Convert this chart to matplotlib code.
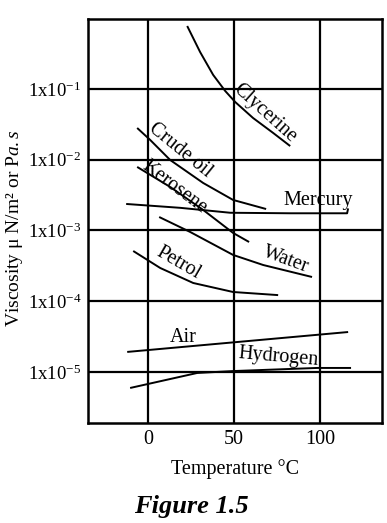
import matplotlib
matplotlib.use("Agg")
import matplotlib.pyplot as plt
import numpy as np

plt.rcParams['font.family'] = ['Liberation Serif', 'DejaVu Serif']
plt.rcParams['mathtext.fontset'] = 'custom'
plt.rcParams['mathtext.rm'] = 'Liberation Serif'
plt.rcParams['mathtext.it'] = 'Liberation Serif:italic'
plt.rcParams['mathtext.bf'] = 'Liberation Serif:bold'

# ---- data (temperature in °C, viscosity in Pa.s) ----
glyc_T = [22.7, 30.2, 37.8, 44.8, 50.6, 61.0, 72.7, 82.6]
glyc_mu = [0.776, 0.333, 0.158, 0.0937, 0.0655, 0.0389, 0.0239, 0.0156]

crude_T = [-6.4, 1.2, 12.8, 32, 49.4, 68.6]
crude_mu = [0.0281, 0.0190, 0.00991, 0.00469, 0.00270, 0.00201]

kero_T = [-6.4, 12.8, 32, 49.4, 58.7]
kero_mu = [0.00791, 0.00412, 0.00195, 0.000923, 0.000687]

merc_T = [-12.8, 18.6, 47.7, 82.6, 115.7, 116.3]
merc_mu = [0.00237, 0.00209, 0.00178, 0.00175, 0.00175, 0.00205]

water_T = [6.4, 24.4, 49.4, 66.9, 95.3]
water_mu = [0.00155, 0.000953, 0.000451, 0.000325, 0.000220]

petrol_T = [-8.7, 7, 26.2, 49.4, 75.6]
petrol_mu = [0.000513, 0.000295, 0.000181, 0.000135, 0.000122]

air_T = [-12.2, 116.3]
air_mu = [1.92e-5, 3.67e-5]

hyd_T = [-10.5, 28.5, 49.4, 98.3, 118]
hyd_mu = [5.94e-6, 9.68e-6, 1.03e-5, 1.14e-5, 1.14e-5]

x_ticks = [0, 50, 100]
x_tick_labels = ['0', '50', '100']
y_ticks = [1e-1, 1e-2, 1e-3, 1e-4, 1e-5]
y_tick_labels = [r'$\mathregular{1x10^{-1}}$', r'$\mathregular{1x10^{-2}}$',
                 r'$\mathregular{1x10^{-3}}$', r'$\mathregular{1x10^{-4}}$',
                 r'$\mathregular{1x10^{-5}}$']

# curve labels: text, T, mu, rotation
labels = [
    ('Clycerine', 68, 0.046, -42),
    ('Crude oil', 18.6, 0.0137, -39),
    ('Kerosene', 15.1, 0.0041, -37),
    ('Mercury', 98.8, 0.00261, 0),
    ('Water', 80.2, 0.000383, -20),
    ('Petrol', 17.4, 0.000347, -30),
    ('Air', 20.3, 3.03e-5, 0),
    ('Hydrogen', 75.6, 1.63e-5, -5),
]

FS = 14.5

fig = plt.figure(figsize=(3.87, 5.23), dpi=100)
ax = fig.add_axes([88/387, 1-423/523, (382-88)/387, (423-19)/523])
ax.set_yscale('log')
ax.set_xlim(-35, 136)
ax.set_ylim(1.9e-6, 0.975)

for T, mu in [(glyc_T, glyc_mu), (crude_T, crude_mu), (kero_T, kero_mu),
              (merc_T, merc_mu), (water_T, water_mu), (petrol_T, petrol_mu),
              (air_T, air_mu), (hyd_T, hyd_mu)]:
    ax.plot(T, mu, color='black', lw=1.4, solid_capstyle='butt')

for txt, T, mu, rot in labels:
    ax.text(T, mu, txt, rotation=rot, rotation_mode='anchor',
            ha='center', va='center', fontsize=FS, color='black')

ax.set_xticks(x_ticks)
ax.set_xticklabels(x_tick_labels, fontsize=FS)
ax.set_yticks(y_ticks)
ax.set_yticklabels(y_tick_labels, fontsize=13.5)
ax.minorticks_off()
ax.tick_params(axis='y', length=0, pad=5)
ax.tick_params(axis='x', length=0, pad=5)
ax.grid(True, color='black', lw=1.6)
for s in ax.spines.values():
    s.set_linewidth(1.8)

ax.set_xlabel('Temperature °C', fontsize=FS, labelpad=7)
fig.text(15/387, 1-228/523, r'Viscosity μ N/m² or P$\mathit{a.s}$',
         rotation=90, ha='center', va='center', fontsize=14)
fig.text(191/387, 1-506/523, 'Figure 1.5', ha='center', va='center',
         fontsize=19, fontweight='bold', fontstyle='italic')

fig.savefig('out.png', dpi=100)
